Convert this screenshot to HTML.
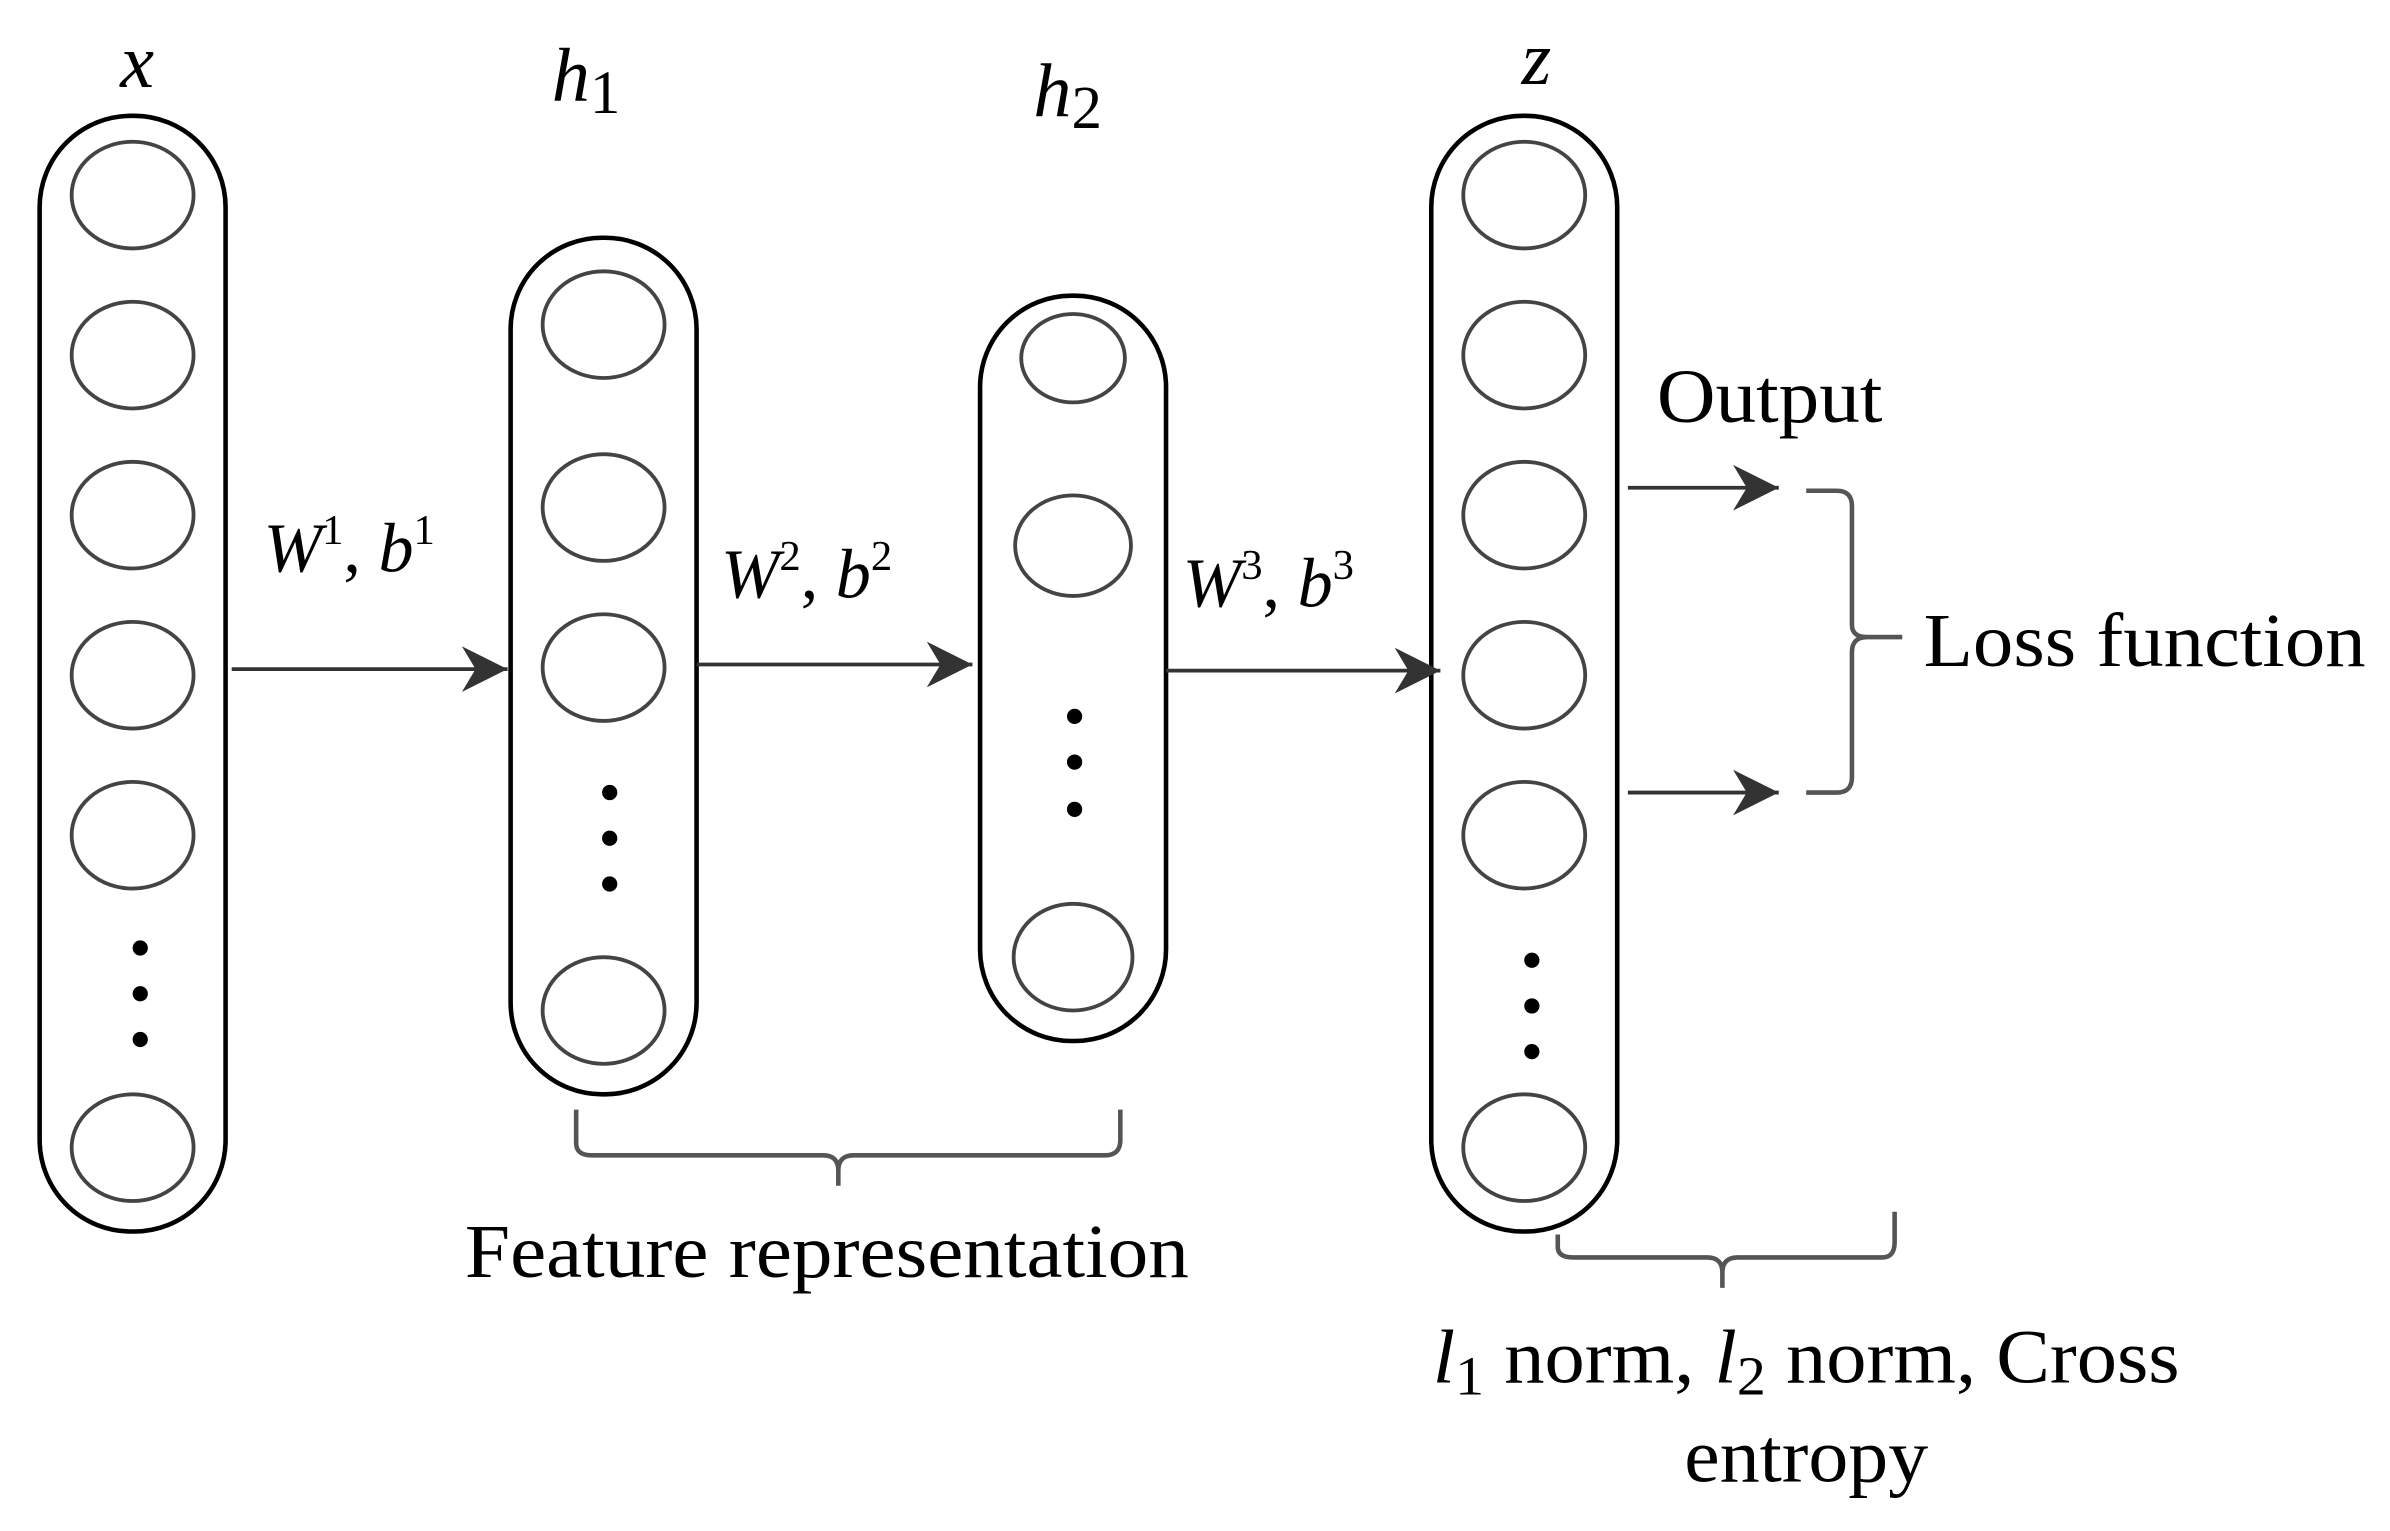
<!DOCTYPE html>
<html><head><style>html,body{margin:0;padding:0;background:#fff}svg{display:block}</style></head><body>
<svg width="2390" height="1531" viewBox="0 0 1568 1004.5" preserveAspectRatio="none" xmlns="http://www.w3.org/2000/svg" font-family="Liberation Serif, serif">
<defs><marker id="a" viewBox="0 0 10 10" refX="10" refY="5" markerWidth="30" markerHeight="30" markerUnits="userSpaceOnUse" orient="auto"><path d="M0,0 L10,5 L0,10 L3,5 z" fill="#333"/></marker></defs>
<g fill="none" stroke="#000" stroke-width="3">
<rect x="26" y="76" width="122" height="732" rx="60"/>
<rect x="335" y="156" width="122" height="562" rx="60"/>
<rect x="643" y="194" width="122" height="489" rx="60"/>
<rect x="939" y="76" width="122" height="732" rx="60"/>
</g>
<g fill="none" stroke="#444" stroke-width="2.5">
<ellipse cx="87" cy="128" rx="40" ry="35"/><ellipse cx="87" cy="233" rx="40" ry="35"/><ellipse cx="87" cy="338" rx="40" ry="35"/><ellipse cx="87" cy="443" rx="40" ry="35"/><ellipse cx="87" cy="548" rx="40" ry="35"/><ellipse cx="87" cy="753" rx="40" ry="35"/>
<ellipse cx="396" cy="213" rx="40" ry="35"/><ellipse cx="396" cy="333" rx="40" ry="35"/><ellipse cx="396" cy="438" rx="40" ry="35"/><ellipse cx="396" cy="663" rx="40" ry="35"/>
<ellipse cx="704" cy="235" rx="34" ry="29"/><ellipse cx="704" cy="358" rx="38" ry="33"/><ellipse cx="704" cy="628" rx="39" ry="35"/>
<ellipse cx="1000" cy="128" rx="40" ry="35"/><ellipse cx="1000" cy="233" rx="40" ry="35"/><ellipse cx="1000" cy="338" rx="40" ry="35"/><ellipse cx="1000" cy="443" rx="40" ry="35"/><ellipse cx="1000" cy="548" rx="40" ry="35"/><ellipse cx="1000" cy="753" rx="40" ry="35"/>
</g>
<g fill="#000">
<circle cx="92" cy="622" r="5"/><circle cx="92" cy="652" r="5"/><circle cx="92" cy="682" r="5"/>
<circle cx="400" cy="520" r="5"/><circle cx="400" cy="550" r="5"/><circle cx="400" cy="580" r="5"/>
<circle cx="705" cy="470" r="5"/><circle cx="705" cy="500" r="5"/><circle cx="705" cy="531" r="5"/>
<circle cx="1005" cy="630" r="5"/><circle cx="1005" cy="660" r="5"/><circle cx="1005" cy="690" r="5"/>
</g>
<g stroke="#333" stroke-width="2.5" marker-end="url(#a)">
<line x1="152" y1="439" x2="333" y2="439"/>
<line x1="457" y1="436" x2="638" y2="436"/>
<line x1="765" y1="440" x2="945" y2="440"/>
<line x1="1068" y1="320" x2="1167" y2="320"/>
<line x1="1068" y1="520" x2="1167" y2="520"/>
</g>
<g fill="none" stroke="#555" stroke-width="3">
<path d="M1185,322 H1205 Q1215,322 1215,332 V410 Q1215,418 1225,418 H1248 M1225,418 Q1215,418 1215,428 V510 Q1215,520 1205,520 H1185"/>
<path d="M378,728 V750 Q378,758 388,758 H540 Q550,758 550,768 V778 M550,768 Q550,758 560,758 H725 Q735,758 735,748 V728"/>
<path d="M1022,810 V818 Q1022,825 1032,825 H1120 Q1130,825 1130,835 V845 M1130,835 Q1130,825 1140,825 H1235 Q1243,825 1243,815 V795"/>
</g>
<g font-size="50" fill="#000">
<text x="90" y="57" text-anchor="middle" font-style="italic">x</text>
<text x="362" y="66" font-style="italic">h<tspan font-style="normal" font-size="40" dy="8">1</tspan></text>
<text x="678" y="76" font-style="italic">h<tspan font-style="normal" font-size="40" dy="8">2</tspan></text>
<text x="1008" y="55" text-anchor="middle" font-style="italic">z</text>
<text x="173" y="375" font-size="46"><tspan font-style="italic">W</tspan><tspan font-size="28" dy="-18">1</tspan><tspan dy="18">, </tspan><tspan font-style="italic">b</tspan><tspan font-size="28" dy="-18">1</tspan></text>
<text x="473" y="392" font-size="46"><tspan font-style="italic">W</tspan><tspan font-size="28" dy="-18">2</tspan><tspan dy="18">, </tspan><tspan font-style="italic">b</tspan><tspan font-size="28" dy="-18">2</tspan></text>
<text x="776" y="398" font-size="46"><tspan font-style="italic">W</tspan><tspan font-size="28" dy="-18">3</tspan><tspan dy="18">, </tspan><tspan font-style="italic">b</tspan><tspan font-size="28" dy="-18">3</tspan></text>
<text x="1087" y="277" textLength="148" lengthAdjust="spacingAndGlyphs">Output</text>
<text x="1262" y="437" textLength="290" lengthAdjust="spacingAndGlyphs">Loss function</text>
<text x="305" y="838" textLength="475" lengthAdjust="spacingAndGlyphs">Feature representation</text>
<text x="940" y="907" textLength="490" lengthAdjust="spacingAndGlyphs"><tspan font-style="italic">l</tspan><tspan font-size="36" dy="8">1</tspan><tspan dy="-8"> norm, </tspan><tspan font-style="italic">l</tspan><tspan font-size="36" dy="8">2</tspan><tspan dy="-8"> norm, Cross</tspan></text>
<text x="1105" y="972" textLength="160" lengthAdjust="spacingAndGlyphs">entropy</text>
</g>
</svg>
</body></html>
